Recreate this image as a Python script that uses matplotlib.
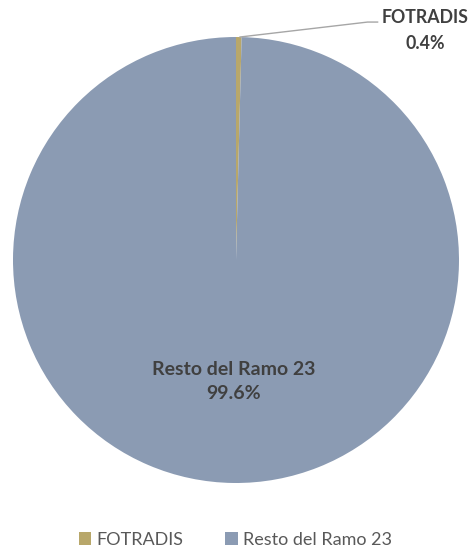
import matplotlib.pyplot as plt
from matplotlib.patches import Patch

categories = ["FOTRADIS", "Resto del Ramo 23"]
shares = [0.4, 99.6]
colors = ["#B8A76A", "#8B9BB3"]

plt.rcParams["font.family"] = ["Lato", "DejaVu Sans"]

fig = plt.figure(figsize=(4.71, 5.55), dpi=100)
# pie radius ~223 px, centre at (236, 260) from top-left
ax = fig.add_axes([13 / 471, 72 / 555, 446 / 471, 446 / 555])
wedges, _ = ax.pie(shares, colors=colors, startangle=90, counterclock=False,
                   radius=1, wedgeprops=dict(linewidth=0))
ax.set_xlim(-1, 1)
ax.set_ylim(-1, 1)
ax.set_aspect("equal")

txt = "#404040"
# big slice label
ax.text(-0.01, -0.545, f"{categories[1]}\n{shares[1]}%", ha="center", va="center",
        fontsize=14, fontweight="bold", color=txt, linespacing=1.5)

# small slice label with leader line
ax.plot([0.018, 0.59, 0.635], [1.0, 1.067, 1.067], color="#A6A6A6", lw=1,
        clip_on=False)
ax.text(0.85, 1.03, f"{categories[0]}\n{shares[0]}%", ha="center", va="center",
        fontsize=12.8, fontweight="bold", color=txt, linespacing=1.6)

handles = [Patch(facecolor=c, edgecolor="none") for c in colors]
fig.legend(handles, categories, loc="center", bbox_to_anchor=(0.5, 1 - 540 / 555),
           ncol=2, frameon=False, fontsize=13, labelcolor="#595959",
           handlelength=0.68, handleheight=0.68, handletextpad=0.3,
           columnspacing=2.3)

fig.savefig("out.png", dpi=100)
